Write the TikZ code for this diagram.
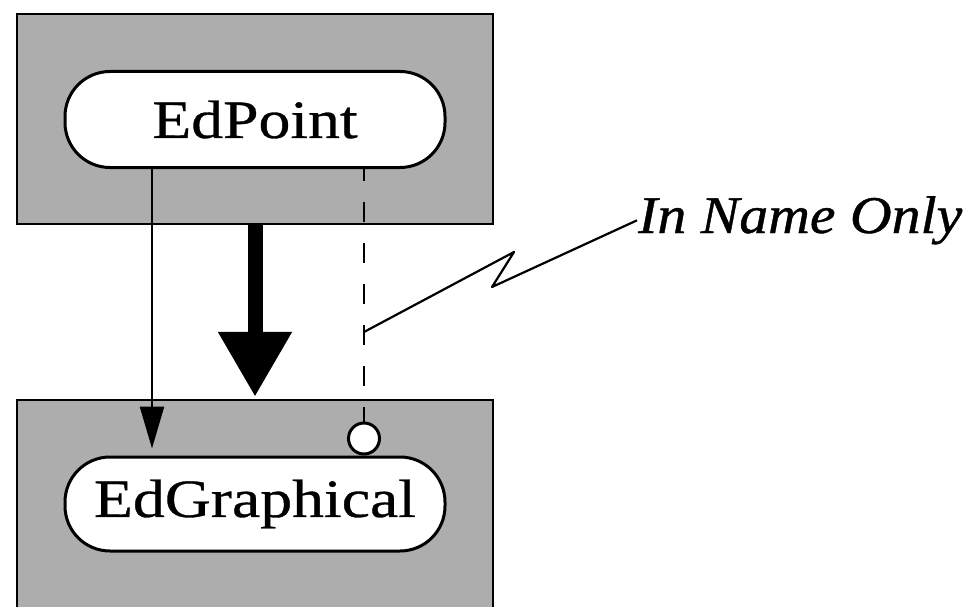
\documentclass[tikz,border=0pt]{standalone}
\usepackage{fontspec}
\setmainfont[FakeStretch=1.18,FakeBold=0.6]{Liberation Serif}
\newfontfamily\notefont[FakeStretch=1.09,FakeBold=0.8]{Liberation Serif}
\usepackage{tikz}
\usetikzlibrary{arrows.meta,positioning}

\begin{document}
\begin{tikzpicture}[
    x=1pt, y=-1pt,
    pkg/.style={draw, line width=2.5pt, fill=black!32, minimum width=476pt, inner sep=0pt},
    cls/.style={draw, line width=3pt, fill=white, rounded corners=45pt, minimum width=380pt, minimum height=96pt, inner sep=0pt, font=\fontsize{54}{60}\selectfont},
    inherit/.style={line width=2.5pt, -{Triangle[width=24pt,length=42pt]}},
    uses/.style={line width=15pt, -{Triangle[width=70pt,length=65pt]}},
    nameonly/.style={line width=2.5pt, dash pattern=on 20pt off 21pt, dash phase=8pt},
]
\useasboundingbox (0,0) rectangle (968,607);
\clip (0,0) rectangle (968,607);

% Packages
\node[pkg, minimum height=210pt] (toppkg) at (255,119) {};
\node[pkg, minimum height=230pt] (botpkg) at (255,515) {};

% Classes
\node[cls] (EdPoint) at (255,119.5) {EdPoint};
\node[cls, minimum height=94pt] (EdGraphical) at (255,504) {EdGraphical};
\node[circle, draw, line width=3pt, fill=white, minimum size=31pt, inner sep=0pt, anchor=south] (plug) at ([xshift=109pt]EdGraphical.north) {};

% Connectors
\draw[inherit] ([xshift=-103pt]EdPoint.south) -- ([xshift=-103pt,yshift=7pt]EdGraphical.north);
\draw[uses] (toppkg.south) -- ([yshift=2pt]botpkg.north);
\draw[nameonly] ([xshift=109pt]EdPoint.south) -- (plug.north);

% Note
\node[font=\notefont\itshape\fontsize{53}{60}\selectfont, anchor=base west, inner sep=1pt] (note) at (637,233) {In Name Only};
\coordinate (tap) at (364,332);
\draw[line width=2.2pt, line join=round] (tap) -- (514,252) -- (492,287) -- (note.west);

\end{tikzpicture}
\end{document}
